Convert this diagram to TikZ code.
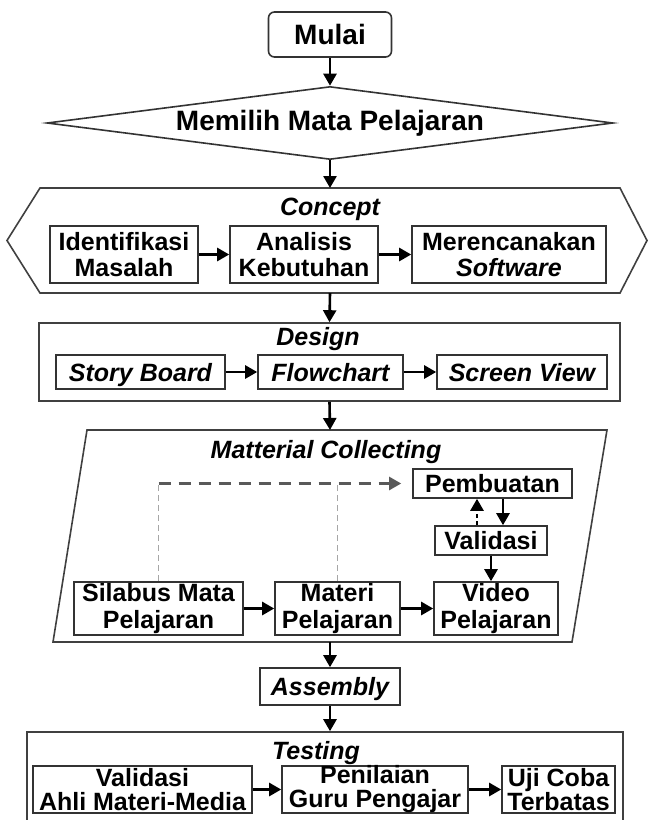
\documentclass[tikz,border=0pt]{standalone}
\usepackage{fontspec}
\setmainfont{Liberation Sans}
\usetikzlibrary{arrows,arrows.meta,positioning,calc,shapes.geometric}

\begin{document}
\begin{tikzpicture}[x=1pt,y=-1pt,>={Triangle[length=12pt,width=13pt]},
  every node/.style={font=\fontsize{25}{26}\selectfont\bfseries},
  box/.style={draw=black!80,line width=1.6pt,inner sep=0pt,align=center},
  single/.style={text height=18pt,text depth=0pt},
  frame/.style={draw=black!75,line width=1.6pt},
  title/.style={font=\fontsize{25}{25}\selectfont\bfseries\itshape},
  flow/.style={line width=2.6pt},
  guide/.style={draw=black!35,line width=1.2pt,dash pattern=on 6pt off 4pt},
  route/.style={draw=black!65,line width=2.4pt,dash pattern=on 12pt off 8pt}]
\useasboundingbox (0,0) rectangle (649,820);

\node[box,single,text height=20pt,rounded corners=6pt,minimum width=123pt,minimum height=45pt,
  font=\fontsize{28}{28}\selectfont\bfseries] (mulai) at (330,34.5) {Mulai};
\node[box,diamond,aspect=7.75,minimum width=566pt,minimum height=73pt,
  font=\fontsize{28}{28}\selectfont\bfseries] (pilih) at (330,123) {Memilih Mata Pelajaran};

% concept
\draw[frame] (40,188) -- (620,188) -- (647,240.5) -- (620,293) -- (40,293) -- (7,240.5) -- cycle;
\coordinate (concept-n) at (330,188);
\coordinate (concept-s) at (330,293);
\node[title] (concept) at (330,209) {Concept};
\node[box,minimum width=148pt,minimum height=57pt] (identifikasi) at (124,254.5) {Identifikasi\\Masalah};
\node[box,minimum width=148pt,minimum height=57pt] (analisis) at (304,254.5) {Analisis\\Kebutuhan};
\node[box,minimum width=194pt,minimum height=57pt] (rencana) at (509,254.5) {Merencanakan\\\textit{Software}};

% design
\node[frame,minimum width=581pt,minimum height=78pt] (design) at (329.5,362) {};
\node[title] (design-t) at (318,339) {Design};
\node[box,single,minimum width=169pt,minimum height=34pt,font=\fontsize{25}{25}\selectfont\bfseries\itshape] (story) at (140.5,372) {Story Board};
\node[box,single,minimum width=145pt,minimum height=34pt,font=\fontsize{25}{25}\selectfont\bfseries\itshape] (flowchart) at (330.5,372) {Flowchart};
\node[box,single,minimum width=170pt,minimum height=34pt,font=\fontsize{25}{25}\selectfont\bfseries\itshape] (screen) at (522,372) {Screen View};

% material collecting
\draw[frame] (87,430) -- (607,430) -- (572,642) -- (53,642) -- cycle;
\coordinate (collect-n) at (330,430);
\coordinate (collect-s) at (330,642);
\node[title] (collect) at (326,452) {Matterial Collecting};
\node[box,single,minimum width=159pt,minimum height=29pt] (pembuatan) at (492.5,483.5) {Pembuatan};
\node[box,single,minimum width=112pt,minimum height=29pt] (validasi) at (491,540.5) {Validasi};
\node[box,minimum width=169pt,minimum height=53pt,font=\fontsize{25}{27}\selectfont\bfseries] (silabus) at (158.5,608.5) {Silabus Mata\\Pelajaran};
\node[box,minimum width=125pt,minimum height=53pt,font=\fontsize{25}{27}\selectfont\bfseries] (materi) at (337.5,608.5) {Materi\\Pelajaran};
\node[box,minimum width=124pt,minimum height=53pt,font=\fontsize{25}{27}\selectfont\bfseries] (video) at (496,608.5) {Video\\Pelajaran};

\node[box,single,minimum width=140pt,minimum height=37pt,font=\fontsize{25}{25}\selectfont\bfseries\itshape] (assembly) at (330,686.5) {Assembly};

% testing
\node[frame,minimum width=596pt,minimum height=90pt] (testing) at (325,777) {};
\node[title] (testing-t) at (316,753) {Testing};
\node[box,minimum width=219pt,minimum height=47pt,font=\fontsize{25}{24}\selectfont\bfseries] (ahli) at (142.5,789.5) {Validasi\\Ahli Materi-Media};
\node[box,minimum width=186pt,minimum height=47pt,font=\fontsize{25}{24}\selectfont\bfseries] (guru) at (375,789.5) {Penilaian\\Guru Pengajar};
\node[box,minimum width=113pt,minimum height=47pt,font=\fontsize{25}{24}\selectfont\bfseries] (uji) at (558.5,789.5) {Uji Coba\\Terbatas};

\draw[guide] (silabus.north) -- (silabus.north |- pembuatan.west);
\draw[guide] (materi.north) -- (materi.north |- pembuatan.west);
\draw[route,->,shorten >=11pt] (silabus.north |- pembuatan.west) -- (pembuatan.west);

\path[->,flow]
(mulai) edge (pilih.north)
(pilih.south) edge (concept-n)
(concept-s) edge (design.north)
(design.south) edge (collect-n)
(collect-s) edge (assembly)
(assembly.south) edge (assembly.south |- testing.north)
(identifikasi) edge (analisis)
(analisis) edge (rencana)
(story) edge (flowchart)
(flowchart) edge (screen)
(silabus) edge (materi)
(materi) edge (video)
([xshift=12pt]validasi.north |- pembuatan.south) edge ([xshift=12pt]validasi.north)
(validasi.south) edge (validasi.south |- video.north)
(ahli) edge (guru)
(guru) edge (uji)
;
\path[->,flow,dash pattern=on 4pt off 3pt]
([xshift=-14pt]validasi.north) edge ([xshift=-14pt]validasi.north |- pembuatan.south)
;
\end{tikzpicture}
\end{document}
